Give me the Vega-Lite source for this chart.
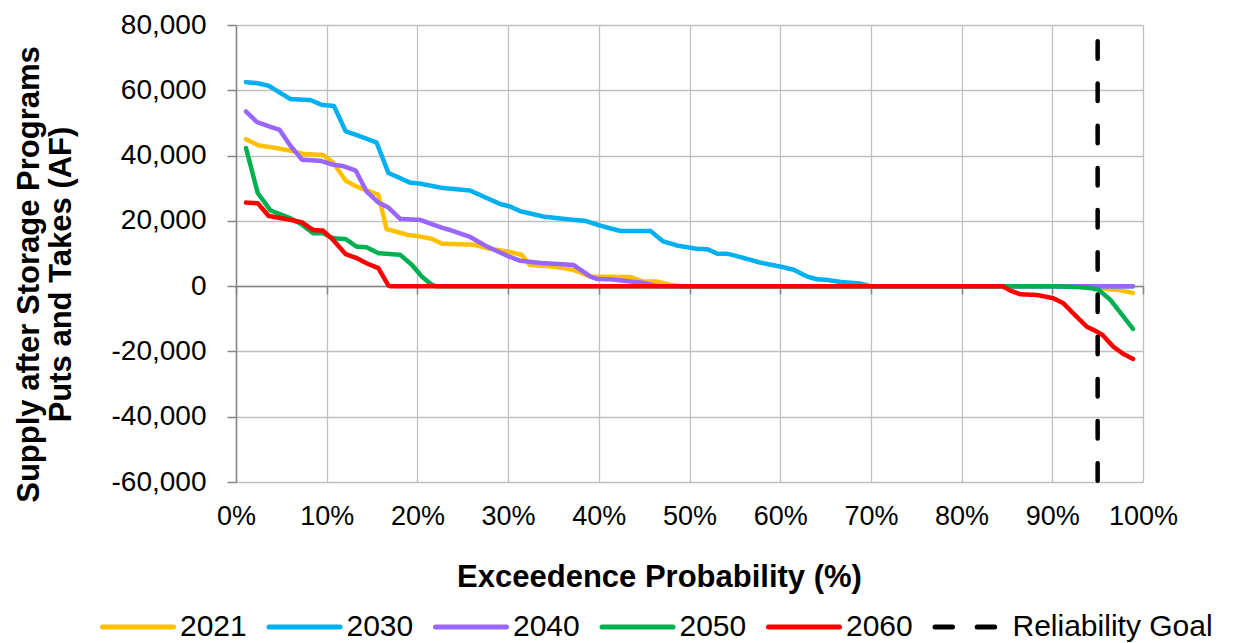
{
  "$schema": "https://vega.github.io/schema/vega-lite/v6.json",
  "width": 907,
  "height": 457,
  "autosize": {"type": "none"},
  "padding": {"left": 236, "top": 25, "right": 93, "bottom": 161},
  "background": "white",
  "config": {"view": {"stroke": null}, "font": "Liberation Sans"},
  "data": {"values": [
    {"series": "2021", "exceedence": 1.1, "supply": 45000},
    {"series": "2021", "exceedence": 2.5, "supply": 43100},
    {"series": "2021", "exceedence": 3.8, "supply": 42600},
    {"series": "2021", "exceedence": 6.0, "supply": 41500},
    {"series": "2021", "exceedence": 7.4, "supply": 40500},
    {"series": "2021", "exceedence": 9.6, "supply": 40200},
    {"series": "2021", "exceedence": 10.7, "supply": 37900},
    {"series": "2021", "exceedence": 12.1, "supply": 32300},
    {"series": "2021", "exceedence": 13.3, "supply": 30500},
    {"series": "2021", "exceedence": 15.7, "supply": 28000},
    {"series": "2021", "exceedence": 16.6, "supply": 17500},
    {"series": "2021", "exceedence": 18.9, "supply": 15700},
    {"series": "2021", "exceedence": 20.3, "supply": 15200},
    {"series": "2021", "exceedence": 21.6, "supply": 14500},
    {"series": "2021", "exceedence": 22.7, "supply": 13000},
    {"series": "2021", "exceedence": 26.2, "supply": 12700},
    {"series": "2021", "exceedence": 27.7, "supply": 11600},
    {"series": "2021", "exceedence": 29.9, "supply": 10600},
    {"series": "2021", "exceedence": 31.5, "supply": 9600},
    {"series": "2021", "exceedence": 32.4, "supply": 6500},
    {"series": "2021", "exceedence": 35.0, "supply": 6000},
    {"series": "2021", "exceedence": 37.2, "supply": 5000},
    {"series": "2021", "exceedence": 39.1, "supply": 2900},
    {"series": "2021", "exceedence": 43.5, "supply": 2800},
    {"series": "2021", "exceedence": 44.9, "supply": 1400},
    {"series": "2021", "exceedence": 46.4, "supply": 1400},
    {"series": "2021", "exceedence": 47.9, "supply": 400},
    {"series": "2021", "exceedence": 49.0, "supply": 0},
    {"series": "2021", "exceedence": 94.7, "supply": 0},
    {"series": "2021", "exceedence": 96.0, "supply": -900},
    {"series": "2021", "exceedence": 97.4, "supply": -1200},
    {"series": "2021", "exceedence": 98.9, "supply": -2100},

    {"series": "2030", "exceedence": 1.1, "supply": 62500},
    {"series": "2030", "exceedence": 2.3, "supply": 62200},
    {"series": "2030", "exceedence": 3.6, "supply": 61400},
    {"series": "2030", "exceedence": 6.0, "supply": 57300},
    {"series": "2030", "exceedence": 8.2, "supply": 57000},
    {"series": "2030", "exceedence": 9.5, "supply": 55500},
    {"series": "2030", "exceedence": 10.8, "supply": 55200},
    {"series": "2030", "exceedence": 12.1, "supply": 47400},
    {"series": "2030", "exceedence": 13.3, "supply": 46300},
    {"series": "2030", "exceedence": 15.5, "supply": 44000},
    {"series": "2030", "exceedence": 16.8, "supply": 34700},
    {"series": "2030", "exceedence": 19.2, "supply": 31700},
    {"series": "2030", "exceedence": 20.3, "supply": 31400},
    {"series": "2030", "exceedence": 22.7, "supply": 30100},
    {"series": "2030", "exceedence": 25.8, "supply": 29300},
    {"series": "2030", "exceedence": 29.1, "supply": 25200},
    {"series": "2030", "exceedence": 30.2, "supply": 24400},
    {"series": "2030", "exceedence": 31.4, "supply": 22900},
    {"series": "2030", "exceedence": 33.9, "supply": 21300},
    {"series": "2030", "exceedence": 37.2, "supply": 20300},
    {"series": "2030", "exceedence": 38.5, "supply": 20000},
    {"series": "2030", "exceedence": 40.2, "supply": 18500},
    {"series": "2030", "exceedence": 42.4, "supply": 16900},
    {"series": "2030", "exceedence": 45.7, "supply": 16900},
    {"series": "2030", "exceedence": 47.1, "supply": 13700},
    {"series": "2030", "exceedence": 48.7, "supply": 12400},
    {"series": "2030", "exceedence": 50.9, "supply": 11400},
    {"series": "2030", "exceedence": 52.0, "supply": 11300},
    {"series": "2030", "exceedence": 53.1, "supply": 9900},
    {"series": "2030", "exceedence": 54.2, "supply": 9900},
    {"series": "2030", "exceedence": 55.6, "supply": 8900},
    {"series": "2030", "exceedence": 57.8, "supply": 7200},
    {"series": "2030", "exceedence": 60.0, "supply": 6000},
    {"series": "2030", "exceedence": 61.5, "supply": 5000},
    {"series": "2030", "exceedence": 63.0, "supply": 2900},
    {"series": "2030", "exceedence": 64.1, "supply": 2100},
    {"series": "2030", "exceedence": 65.2, "supply": 1900},
    {"series": "2030", "exceedence": 66.6, "supply": 1300},
    {"series": "2030", "exceedence": 68.8, "supply": 800},
    {"series": "2030", "exceedence": 69.9, "supply": 0},
    {"series": "2030", "exceedence": 98.9, "supply": 0},

    {"series": "2040", "exceedence": 1.1, "supply": 53500},
    {"series": "2040", "exceedence": 2.3, "supply": 50300},
    {"series": "2040", "exceedence": 3.8, "supply": 48800},
    {"series": "2040", "exceedence": 4.8, "supply": 47900},
    {"series": "2040", "exceedence": 6.0, "supply": 43000},
    {"series": "2040", "exceedence": 7.3, "supply": 38700},
    {"series": "2040", "exceedence": 9.3, "supply": 38400},
    {"series": "2040", "exceedence": 10.7, "supply": 37200},
    {"series": "2040", "exceedence": 11.8, "supply": 36800},
    {"series": "2040", "exceedence": 13.2, "supply": 35400},
    {"series": "2040", "exceedence": 14.4, "supply": 29000},
    {"series": "2040", "exceedence": 15.7, "supply": 25600},
    {"series": "2040", "exceedence": 16.8, "supply": 24100},
    {"series": "2040", "exceedence": 18.1, "supply": 20600},
    {"series": "2040", "exceedence": 20.3, "supply": 20300},
    {"series": "2040", "exceedence": 22.7, "supply": 17900},
    {"series": "2040", "exceedence": 23.6, "supply": 17200},
    {"series": "2040", "exceedence": 25.8, "supply": 15100},
    {"series": "2040", "exceedence": 27.7, "supply": 12100},
    {"series": "2040", "exceedence": 29.9, "supply": 9300},
    {"series": "2040", "exceedence": 31.3, "supply": 7800},
    {"series": "2040", "exceedence": 33.5, "supply": 7100},
    {"series": "2040", "exceedence": 37.2, "supply": 6500},
    {"series": "2040", "exceedence": 39.1, "supply": 2900},
    {"series": "2040", "exceedence": 39.8, "supply": 2200},
    {"series": "2040", "exceedence": 41.3, "supply": 2100},
    {"series": "2040", "exceedence": 44.9, "supply": 1000},
    {"series": "2040", "exceedence": 46.4, "supply": 0},
    {"series": "2040", "exceedence": 98.9, "supply": 0},

    {"series": "2050", "exceedence": 1.1, "supply": 42300},
    {"series": "2050", "exceedence": 2.4, "supply": 28500},
    {"series": "2050", "exceedence": 3.8, "supply": 23200},
    {"series": "2050", "exceedence": 6.0, "supply": 20800},
    {"series": "2050", "exceedence": 7.3, "supply": 18800},
    {"series": "2050", "exceedence": 8.5, "supply": 16200},
    {"series": "2050", "exceedence": 9.6, "supply": 16200},
    {"series": "2050", "exceedence": 10.7, "supply": 14700},
    {"series": "2050", "exceedence": 12.1, "supply": 14400},
    {"series": "2050", "exceedence": 13.3, "supply": 12100},
    {"series": "2050", "exceedence": 14.4, "supply": 11900},
    {"series": "2050", "exceedence": 15.7, "supply": 10100},
    {"series": "2050", "exceedence": 18.1, "supply": 9600},
    {"series": "2050", "exceedence": 19.4, "supply": 6500},
    {"series": "2050", "exceedence": 20.5, "supply": 2900},
    {"series": "2050", "exceedence": 21.6, "supply": 400},
    {"series": "2050", "exceedence": 22.0, "supply": 0},
    {"series": "2050", "exceedence": 89.9, "supply": 0},
    {"series": "2050", "exceedence": 93.0, "supply": -300},
    {"series": "2050", "exceedence": 94.2, "supply": -600},
    {"series": "2050", "exceedence": 95.1, "supply": -1100},
    {"series": "2050", "exceedence": 96.4, "supply": -4200},
    {"series": "2050", "exceedence": 97.7, "supply": -8800},
    {"series": "2050", "exceedence": 98.9, "supply": -13100},

    {"series": "2060", "exceedence": 1.1, "supply": 25600},
    {"series": "2060", "exceedence": 2.4, "supply": 25400},
    {"series": "2060", "exceedence": 3.6, "supply": 21500},
    {"series": "2060", "exceedence": 6.0, "supply": 20300},
    {"series": "2060", "exceedence": 7.3, "supply": 19500},
    {"series": "2060", "exceedence": 8.5, "supply": 17200},
    {"series": "2060", "exceedence": 9.6, "supply": 17000},
    {"series": "2060", "exceedence": 10.7, "supply": 14200},
    {"series": "2060", "exceedence": 12.1, "supply": 9800},
    {"series": "2060", "exceedence": 13.3, "supply": 8600},
    {"series": "2060", "exceedence": 14.4, "supply": 7000},
    {"series": "2060", "exceedence": 15.7, "supply": 5500},
    {"series": "2060", "exceedence": 16.8, "supply": 200},
    {"series": "2060", "exceedence": 17.0, "supply": 0},
    {"series": "2060", "exceedence": 84.5, "supply": 0},
    {"series": "2060", "exceedence": 85.4, "supply": -1400},
    {"series": "2060", "exceedence": 86.5, "supply": -2500},
    {"series": "2060", "exceedence": 88.3, "supply": -2700},
    {"series": "2060", "exceedence": 90.1, "supply": -3700},
    {"series": "2060", "exceedence": 91.2, "supply": -5200},
    {"series": "2060", "exceedence": 92.3, "supply": -8300},
    {"series": "2060", "exceedence": 93.8, "supply": -12400},
    {"series": "2060", "exceedence": 94.9, "supply": -13900},
    {"series": "2060", "exceedence": 95.6, "supply": -15100},
    {"series": "2060", "exceedence": 96.7, "supply": -18500},
    {"series": "2060", "exceedence": 97.8, "supply": -20700},
    {"series": "2060", "exceedence": 98.9, "supply": -22300},

    {"series": "Reliability Goal", "exceedence": 95, "supply": 75000},
    {"series": "Reliability Goal", "exceedence": 95, "supply": -60000}
  ]},
  "mark": {"type": "line", "strokeWidth": 4.5, "strokeCap": "round", "strokeJoin": "round"},
  "encoding": {
    "x": {
      "field": "exceedence",
      "type": "quantitative",
      "scale": {"domain": [0, 100], "nice": false},
      "axis": {
        "orient": "bottom",
        "offset": -196,
        "values": [0, 10, 20, 30, 40, 50, 60, 70, 80, 90, 100],
        "grid": true,
        "gridColor": "#C0C0C0",
        "gridWidth": 1.3,
        "domain": true,
        "domainColor": "#868686",
        "domainWidth": 1.5,
        "ticks": true,
        "tickColor": "#868686",
        "tickWidth": 1.5,
        "tickSize": 8,
        "labelExpr": "datum.value + '%'",
        "labelFont": "Liberation Sans",
        "labelFontSize": 27,
        "labelColor": "black",
        "labelPadding": 209,
        "labelFlush": false,
        "labelOverlap": false,
        "title": "Exceedence Probability (%)",
        "titleFont": "Liberation Sans",
        "titleFontSize": 31,
        "titleFontWeight": "bold",
        "titleColor": "black",
        "titleX": 423,
        "titleY": 291,
        "titleAlign": "center",
        "titleBaseline": "middle"
      }
    },
    "y": {
      "field": "supply",
      "type": "quantitative",
      "scale": {"domain": [-60000, 80000], "nice": false},
      "axis": {
        "values": [-60000, -40000, -20000, 0, 20000, 40000, 60000, 80000],
        "grid": true,
        "gridColor": "#C0C0C0",
        "gridWidth": 1.3,
        "domain": true,
        "domainColor": "#868686",
        "domainWidth": 1.5,
        "ticks": true,
        "tickColor": "#868686",
        "tickWidth": 1.5,
        "tickSize": 9,
        "labelExpr": "replace(format(datum.value, ','), '\u2212', '-')",
        "labelFont": "Liberation Sans",
        "labelFontSize": 28,
        "labelColor": "black",
        "labelPadding": 21,
        "labelFlush": false,
        "labelOverlap": false,
        "title": ["Supply after Storage Programs", "Puts and Takes (AF)"],
        "titleFont": "Liberation Sans",
        "titleFontSize": 31,
        "titleFontWeight": "bold",
        "titleColor": "black",
        "titleLineHeight": 32,
        "titleAngle": -90,
        "titleX": -207,
        "titleY": 249,
        "titleAlign": "center",
        "titleBaseline": "middle"
      }
    },
    "color": {
      "field": "series",
      "type": "nominal",
      "scale": {
        "domain": ["2021", "2030", "2040", "2050", "2060", "Reliability Goal"],
        "range": ["#FFC000", "#00B0F0", "#9966FF", "#00B050", "#FF0000", "#000000"]
      },
      "legend": {
        "title": null,
        "orient": "none",
        "legendX": -136,
        "legendY": 564,
        "direction": "horizontal",
        "columns": 6,
        "symbolType": "stroke",
        "symbolSize": 5041,
        "symbolStrokeWidth": 5,
        "labelFont": "Liberation Sans",
        "labelFontSize": 30,
        "labelColor": "black",
        "labelOffset": 4,
        "labelLimit": 400,
        "columnPadding": 11.5,
        "encode": {"symbols": {"update": {"strokeCap": {"value": "round"}}}}
      }
    },
    "strokeDash": {
      "field": "series",
      "type": "nominal",
      "scale": {
        "domain": ["2021", "2030", "2040", "2050", "2060", "Reliability Goal"],
        "range": [[1, 0], [1, 0], [1, 0], [1, 0], [1, 0], [17.5, 24.7]]
      },
      "legend": {
        "title": null,
        "orient": "none",
        "legendX": -136,
        "legendY": 564,
        "direction": "horizontal",
        "columns": 6,
        "symbolType": "stroke",
        "symbolSize": 5041,
        "symbolStrokeWidth": 5,
        "labelFont": "Liberation Sans",
        "labelFontSize": 30,
        "labelColor": "black",
        "labelOffset": 4,
        "labelLimit": 400,
        "columnPadding": 11.5,
        "encode": {"symbols": {"update": {"strokeCap": {"value": "round"}}}}
      }
    }
  }
}
